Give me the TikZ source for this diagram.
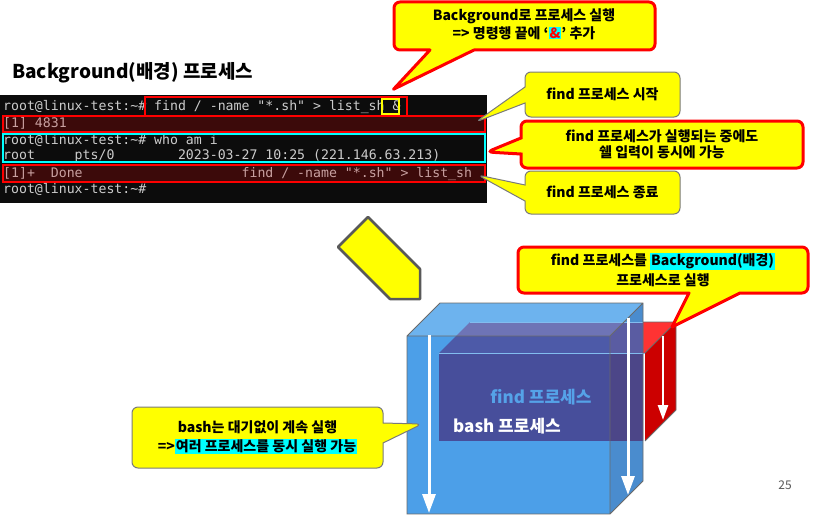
\documentclass[tikz,border=0pt]{standalone}
\usepackage{fontspec}
\setmainfont{Noto Sans CJK KR}
\setmonofont{DejaVu Sans Mono}
\usepackage{xcolor}
\usepackage{tikz}
\usetikzlibrary{arrows.meta,positioning,shapes.callouts,calc}
\definecolor{termbg}{HTML}{0C0C0C}
\definecolor{termfg}{HTML}{CCCCCC}
\definecolor{termrow}{HTML}{3C0A0A}
\definecolor{rowfg}{HTML}{C8A0A0}
\definecolor{bk65}{HTML}{595959}
\definecolor{edgegray}{HTML}{6A6A6A}
\definecolor{hlcyan}{HTML}{00FFFF}
\definecolor{hlyellow}{HTML}{FFFF00}
\definecolor{hlred}{HTML}{FF0000}
\definecolor{bluefront}{HTML}{4C9FE8}
\definecolor{bluetop}{HTML}{6DB3EE}
\definecolor{blueside}{HTML}{4A8CCE}
\definecolor{redtop}{HTML}{FF3333}
\definecolor{redside}{HTML}{CC0000}
\definecolor{mixtop}{HTML}{6E74B6}
\definecolor{mixlid}{HTML}{4D5AA8}
\definecolor{mixfront}{HTML}{474E9B}
\definecolor{mixsidetop}{HTML}{5A5CA2}
\definecolor{mixside}{HTML}{4C4688}
\definecolor{findblue}{HTML}{55A2E8}
\setlength{\fboxsep}{1pt}
\tikzset{
  callbox/.style={
    rectangle callout, fill=hlyellow, rounded corners=6pt,
    font=\fontsize{14}{18}\selectfont\bfseries, align=center,
    inner sep=0pt, callout pointer width=16pt
  },
  redcall/.style={callbox, draw=hlred, line width=3pt},
  graycall/.style={callbox, draw=bk65!80, line width=1pt},
  redbubble/.style={hlred, line width=3pt, fill=hlyellow, line join=round},
  calltext/.style={font=\fontsize{14}{18}\selectfont\bfseries, align=center, inner sep=0pt},
  termline/.style={
    anchor=west, inner sep=0pt, text=termfg,
    font=\fontsize{13.2}{16}\selectfont\ttfamily,
    text height=9.5pt, text depth=2pt
  },
  markbox/.style={draw=#1, line width=2pt, inner sep=0pt},
  rowbox/.style={
    draw=hlred, fill=termrow, line width=1.5pt, inner sep=0pt,
    minimum width=482pt
  },
  wdown/.style={white, line width=3pt, -{Triangle[width=13pt,length=19pt]}},
  edge/.style={edgegray, line width=0.8pt},
  boxlabel/.style={font=\fontsize{17}{20}\selectfont\bfseries, inner sep=0pt},
}

\begin{document}
\begin{tikzpicture}[x=1pt,y=-1pt]
  \useasboundingbox (0,0) rectangle (821,519);
  \node[anchor=west, inner sep=0pt, font=\fontsize{19}{23}\selectfont\bfseries] (title)
    at (12,73) {Background(배경) 프로세스};

  % terminal
  \fill[termbg] (0,95) rectangle (487,203);
  \node[rowbox, minimum height=16pt] (pidrow) at (244,124) {};
  \node[rowbox, minimum height=17pt] (donerow) at (244,173.5) {};
  \node[termline] (l1) at (3,106.5) {root@linux-test:\textasciitilde\# find / -name "*.sh" > list\_sh \&};
  \node[termline, text=rowfg] (l2) at (3,124) {[1] 4831};
  \node[termline] (l3) at (3,141) {root@linux-test:\textasciitilde\# who am i};
  \node[termline] (l4) at (3,156) {root~~~~~pts/0~~~~~~~~2023-03-27 10:25 (221.146.63.213)};
  \node[termline, text=rowfg] (l5) at (3,173.5) {[1]+~~Done~~~~~~~~~~~~~~~~~~~~find / -name "*.sh" > list\_sh};
  \node[termline] (l6) at (3,190) {root@linux-test:\textasciitilde\#};
  \node[markbox=hlred, minimum width=262pt, minimum height=19pt] (cmdbox) at (276,106.5) {};
  \node[markbox=hlyellow, line width=1.5pt, minimum width=17pt, minimum height=15pt] (ampbox) at (390.5,106.5) {};
  \node[markbox=hlcyan, minimum width=482pt, minimum height=28pt] (whobox) at (244,148) {};

  \coordinate (amptip) at ($(ampbox.north)+(3,-9)$);
  \coordinate (pidtip) at ($(pidrow.east)+(-10,-2)$);
  \coordinate (whotip) at ($(whobox.east)+(1,4)$);
  \coordinate (donetip) at ($(donerow.east)+(-8,1.5)$);

  \draw[redbubble]
    (amptip) -- (430,50) [rounded corners=6pt] -- (394,50) -- (394,2) -- (655,2) -- (655,50)
    [sharp corners] -- (474,50) -- cycle;
  \node[calltext] (bgnote) at (524,24) {Background로 프로세스 실행\\=> 명령행 끝에 ‘\colorbox{hlcyan}{\color{hlred}\&}’ 추가};
  \node[graycall, minimum width=155pt, minimum height=45pt, callout absolute pointer={(pidtip)}]
    (startnote) at (602.5,94.5) {find 프로세스 시작};
  \node[redcall, minimum width=282pt, minimum height=47pt, callout absolute pointer={(whotip)},
    font=\fontsize{14}{16.5}\selectfont\bfseries]
    (whonote) at (662,144.5) {find 프로세스가 실행되는 중에도\\쉘 입력이 동시에 가능};
  \node[graycall, minimum width=155pt, minimum height=43pt, callout absolute pointer={(donetip)}]
    (donenote) at (602.5,192.5) {find 프로세스 종료};

  \draw[bk65, line width=2.5pt, fill=hlyellow, line join=round]
    (368,217) -- (338,247) -- (390,299) -- (420,299) -- (420,269) -- cycle;

  % find box behind, bash box in front
  \coordinate (b1) at (407,336); \coordinate (b2) at (610,336);
  \coordinate (b3) at (610,514); \coordinate (b4) at (407,514);
  \coordinate (b5) at (440,303); \coordinate (b6) at (643,303);
  \coordinate (b7) at (643,481);
  \coordinate (r1) at (439,353); \coordinate (r2) at (645,353);
  \coordinate (r3) at (645,441); \coordinate (r4) at (439,441);
  \coordinate (r5) at (470,322); \coordinate (r6) at (676,322);
  \coordinate (r7) at (676,410);

  \fill[redtop] (r1) -- (r5) -- (r6) -- (r2) -- cycle;
  \fill[redside] (r2) -- (r6) -- (r7) -- (r3) -- cycle;
  \draw[edge] (r2) -- (r6) -- (r7) -- (r3) (r5) -- (r6);
  \fill[bluefront] (b1) rectangle (b3);
  \fill[bluetop] (b1) -- (b5) -- (b6) -- (b2) -- cycle;
  \fill[blueside] (b2) -- (b6) -- (b7) -- (b3) -- cycle;
  \begin{scope}
    \clip (b1) -- (b5) -- (b6) -- (b2) -- cycle;
    \fill[mixtop] (r1) -- (r5) -- (r6) -- (r2) -- cycle;
  \end{scope}
  \begin{scope}
    \clip (b1) rectangle (b3);
    \fill[mixlid] (r1) -- (r5) -- (r6) -- (r2) -- cycle;
    \fill[mixfront] (r1) rectangle (r3);
  \end{scope}
  \begin{scope}
    \clip (b2) -- (b6) -- (b7) -- (b3) -- cycle;
    \fill[mixsidetop] (r1) -- (r5) -- (r6) -- (r2) -- cycle;
    \fill[mixside] (r1) rectangle (r3);
  \end{scope}
  \draw[bluefront!70!white, line width=0.6pt] (r1) -- (r2) (r5) -- (b6 |- r5);
  \draw[edge] (b1) rectangle (b3) (b1) -- (b5) -- (b6) -- (b7) -- (b3) (b2) -- (b6);

  \draw[wdown] (429,335) -- (429,513);
  \draw[wdown] (628,318) -- (628,495);
  \draw[wdown, line width=2.5pt, -{Triangle[width=10pt,length=15pt]}] (663,336) -- (663,420);
  \node[boxlabel, text=findblue] (findlbl) at (541,397) {find 프로세스};
  \node[boxlabel, text=white] (bashlbl) at (507,426) {bash 프로세스};

  \coordinate (findtip) at (672,327);
  \coordinate (bashtip) at (422,424);
  \draw[redbubble]
    (findtip) -- (740,293) [rounded corners=6pt] -- (808,293) -- (808,247) -- (518,247) -- (518,293)
    [sharp corners] -- (689,293) -- cycle;
  \node[calltext, font=\fontsize{14}{20}\selectfont\bfseries] (bgrun) at (663,270)
    {find 프로세스를 \colorbox{hlcyan}{Background(배경)}\\프로세스로 실행};
  \node[graycall, minimum width=251pt, minimum height=61pt, callout absolute pointer={(bashtip)},
    callout pointer width=20pt, font=\fontsize{14}{19}\selectfont\bfseries]
    (bashnote) at (257.5,437.5) {bash는 대기없이 계속 실행\\=>\colorbox{hlcyan}{여러 프로세스를 동시 실행 가능}};

  \node[text=bk65, font=\fontsize{12}{14}\selectfont] (pagenum) at (785,485) {25};
\end{tikzpicture}
\end{document}
